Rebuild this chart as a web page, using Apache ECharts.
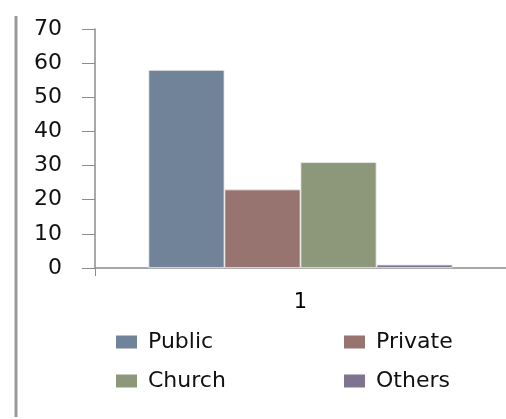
<!DOCTYPE html>
<html>
<head>
<meta charset="utf-8">
<script src="https://cdn.jsdelivr.net/npm/echarts@6/dist/echarts.min.js"></script>
<style>
  html, body { margin: 0; padding: 0; background: #fff; }
  #chart { width: 506px; height: 419px; }
</style>
</head>
<body>
<div id="chart"></div>
<script>
var categories = ['1'];
var seriesNames = ['Public', 'Private', 'Church', 'Others'];
var seriesValues = [[58], [23], [31], [1]];
var seriesColors = ['#718398', '#977470', '#8d977a', '#7e748f'];
var yTicks = [0, 10, 20, 30, 40, 50, 60, 70];

var chartDom = document.getElementById('chart');
var myChart = echarts.init(chartDom);

var series = seriesNames.map(function (name, i) {
  return {
    name: name,
    type: 'bar',
    data: seriesValues[i],
    barGap: '0%',
    barCategoryGap: '26%',
    itemStyle: {
      color: seriesColors[i],
      borderColor: '#ececec',
      borderWidth: 0.8
    }
  };
});

var legendText = { fontFamily: 'DejaVu Sans', fontSize: 22, color: '#111', padding: [0, 0, 0, 6] };
var legendBase = {
  orient: 'vertical',
  top: 331,
  padding: 0,
  itemWidth: 21,
  itemHeight: 13,
  itemGap: 17,
  icon: 'rect',
  itemStyle: { borderWidth: 0 },
  textStyle: legendText
};

var option = {
  animation: false,
  grid: { left: 95, right: 0, top: 29, bottom: 151 },
  graphic: [{
    type: 'line',
    shape: { x1: 16, y1: 16, x2: 16, y2: 417 },
    style: { stroke: '#9a9a9a', lineWidth: 3 }
  }],
  legend: [
    Object.assign({}, legendBase, { data: ['Public', 'Church'], left: 116 }),
    Object.assign({}, legendBase, { data: ['Private', 'Others'], left: 344 })
  ],
  xAxis: {
    type: 'category',
    data: categories,
    axisLine: { lineStyle: { color: '#8c8c8c', width: 1.5 } },
    axisTick: { show: true, length: 8, lineStyle: { color: '#8c8c8c' } },
    axisLabel: { fontFamily: 'DejaVu Sans', fontSize: 21, color: '#000', margin: 24 }
  },
  yAxis: {
    type: 'value',
    min: yTicks[0],
    max: yTicks[yTicks.length - 1],
    interval: 10,
    splitLine: { show: false },
    axisLine: { show: true, lineStyle: { color: '#8c8c8c', width: 1.5 } },
    axisTick: { show: true, length: 13, lineStyle: { color: '#8c8c8c' } },
    axisLabel: { fontFamily: 'DejaVu Sans', fontSize: 22, color: '#111', margin: 33 }
  },
  series: series
};

option && myChart.setOption(option);
</script>
</body>
</html>
